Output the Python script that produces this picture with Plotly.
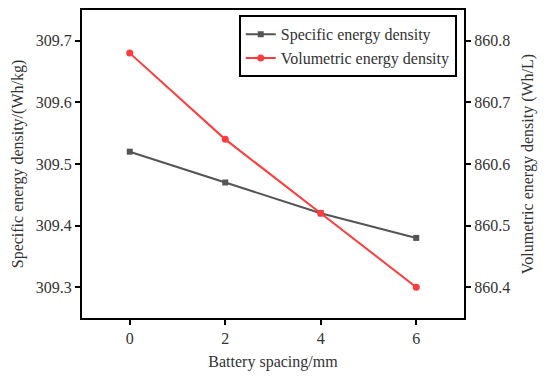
import plotly.graph_objects as go

spacing = [0, 2, 4, 6]
specific = [309.52, 309.47, 309.42, 309.38]
volumetric = [860.78, 860.64, 860.52, 860.40]
x_ticks = [0, 2, 4, 6]
left_ticks = [309.3, 309.4, 309.5, 309.6, 309.7]
right_ticks = [860.4, 860.5, 860.6, 860.7, 860.8]

FONT = "Liberation Serif"
TXT = "#333333"

fig = go.Figure()
fig.add_trace(go.Scatter(
    x=spacing, y=specific, name="Specific energy density", mode="lines+markers",
    line=dict(color="#555555", width=2), marker=dict(symbol="square", size=6, color="#555555"),
    yaxis="y"))
fig.add_trace(go.Scatter(
    x=spacing, y=volumetric, name="Volumetric energy density", mode="lines+markers",
    line=dict(color="#ff3b3b", width=2), marker=dict(symbol="circle", size=7, color="#ff3b3b"),
    yaxis="y2"))

axis_common = dict(showgrid=False, zeroline=False, showline=True, linecolor="black", linewidth=2,
                   ticks="outside", ticklen=5, tickwidth=2, tickcolor="black", automargin=False,
                   tickfont=dict(family=FONT, size=16, color=TXT))

fig.update_layout(
    width=542, height=370,
    margin=dict(l=74, r=86, t=2, b=60),
    paper_bgcolor="white", plot_bgcolor="white",
    font=dict(family=FONT, color=TXT),
    showlegend=True,
    legend=dict(x=0.981, y=0.983, xanchor="right", yanchor="top",
                bgcolor="white", bordercolor="black", borderwidth=2,
                font=dict(family=FONT, size=16, color=TXT),
                tracegroupgap=0),
    xaxis=dict(range=[-1, 7], tickvals=x_ticks, mirror=True,
               title=dict(text="Battery spacing/mm", font=dict(family=FONT, size=16, color=TXT), standoff=10),
               **axis_common),
    yaxis=dict(range=[309.25, 309.75], tickvals=left_ticks, tickformat=".1f",
               title=dict(text="Specific energy density/(Wh/kg)", font=dict(family=FONT, size=16, color=TXT), standoff=8),
               **axis_common),
    yaxis2=dict(range=[860.35, 860.85], tickvals=right_ticks, tickformat=".1f",
                overlaying="y", side="right",
                title=dict(text="Volumetric energy density (Wh/L)", font=dict(family=FONT, size=16, color=TXT), standoff=13),
                **axis_common),
)

fig.write_html("out.html")
